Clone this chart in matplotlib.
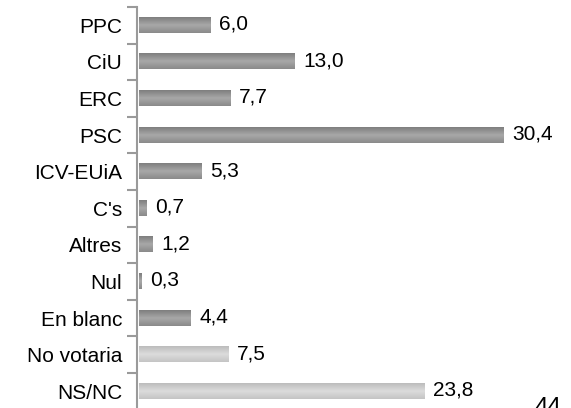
import matplotlib
matplotlib.use("Agg")
import matplotlib.pyplot as plt
import numpy as np
from matplotlib.colors import LinearSegmentedColormap

plt.rcParams['font.family'] = ['Liberation Sans', 'DejaVu Sans']

categories = ["PPC", "CiU", "ERC", "PSC", "ICV-EUiA", "C's", "Altres", "Nul",
              "En blanc", "No votaria", "NS/NC"]
values = [6.0, 13.0, 7.7, 30.4, 5.3, 0.7, 1.2, 0.3, 4.4, 7.5, 23.8]
groups = ["vote"] * 9 + ["novote"] * 2
page_number = "44"

cmaps = {
    "vote": LinearSegmentedColormap.from_list("d", ["#7e7e7e", "#a8a8a8", "#8a8a8a"]),
    "novote": LinearSegmentedColormap.from_list("l", ["#bcbcbc", "#dcdcdc", "#c4c4c4"]),
}

fig = plt.figure(figsize=(5.71, 4.08), dpi=100)
ax = fig.add_axes([0.2408, -0.0038, 0.7592, 0.9868])

h = 0.41
grad = np.linspace(0, 1, 64).reshape(-1, 1)
ypos = np.arange(len(categories))
bars = ax.barh(ypos, values, height=h, color="none", edgecolor="none")
for b, v, g in zip(bars, values, groups):
    x0, y0 = b.get_x(), b.get_y()
    ax.imshow(grad, cmap=cmaps[g], aspect="auto",
              extent=(x0 + 0.1, x0 + b.get_width(), y0 + b.get_height(), y0),
              interpolation="bilinear", zorder=2)
    ax.text(v + 0.75, b.get_y() + b.get_height() / 2 - 0.03, f"{v:.1f}".replace(".", ","),
            va="center", ha="left", fontsize=15, color="#000000")

ax.set_xlim(0, 36)
ax.set_ylim(len(categories) - 0.5, -0.5)
ax.set_yticks(ypos)
ax.set_yticklabels(categories, fontsize=15)
ax.set_yticks(np.arange(-0.5, len(categories) + 0.5, 1), minor=True)
ax.tick_params(axis="y", which="major", length=0, pad=11)
ax.tick_params(axis="y", which="minor", length=7, width=1.5, color="#9a9a9a")
ax.set_xticks([])
for s in ["top", "right", "bottom"]:
    ax.spines[s].set_visible(False)
ax.spines["left"].set_color("#9a9a9a")
ax.spines["left"].set_linewidth(1.5)
ax.set_facecolor("none")

fig.text(548 / 571, -0.0147, page_number, ha="center", va="baseline", fontsize=17.5)

fig.savefig("out.png", dpi=100)
